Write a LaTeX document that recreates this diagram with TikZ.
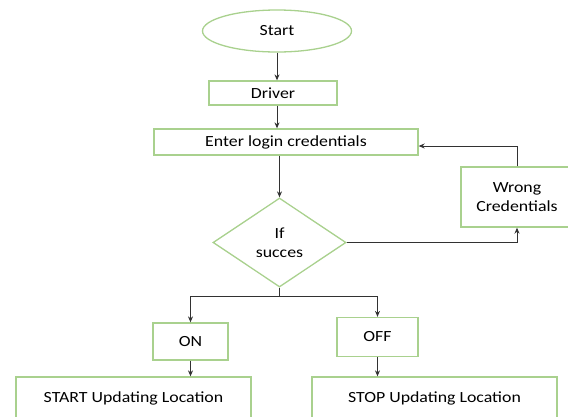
\documentclass[tikz,border=0pt]{standalone}
\usepackage{fontspec}
\setmainfont[FakeStretch=1.15]{Carlito}
\usetikzlibrary{shapes.geometric,arrows.meta,calc}

\definecolor{boxgreen}{RGB}{169,209,142}
\definecolor{linegray}{RGB}{50,50,50}

\begin{document}
\begin{tikzpicture}[x=1pt, y=-1pt, font=\fontsize{15.5}{19}\selectfont]
  \tikzstyle{box}=[rectangle, draw=boxgreen, line width=1.3pt, inner sep=0pt, align=center, fill=white]
  \tikzstyle{arr}=[draw=linegray, line width=1pt, -{Stealth[length=6pt,width=5pt]}]
  \tikzstyle{line}=[draw=linegray, line width=1pt]

  \useasboundingbox (0,0) rectangle (568,416);
  \clip (0,0) rectangle (568,416);

  \node[box, ellipse, minimum width=149pt, minimum height=42pt] (start) at (277, 31) {Start};
  \node[box, minimum width=128pt, minimum height=24pt] (driver) at (273, 93) {Driver};
  \node[box, minimum width=264pt, minimum height=26pt] (login) at (286, 142) {Enter login credentials};
  \node[box, diamond, minimum width=133pt, minimum height=89pt] (ifs) at (279.5, 242.5) {If\\succes};
  \node[box, minimum width=112pt, minimum height=60pt] (wrong) at (517, 197) {Wrong\\Credentials};
  \node[box, minimum width=75pt, minimum height=37pt] (on) at (190.5, 341.5) {ON};
  \node[box, minimum width=81pt, minimum height=39pt] (off) at (377.5, 337) {OFF};
  \node[box, minimum width=235pt, minimum height=42pt] (startloc) at (133.5, 398) {START Updating Location};
  \node[box, minimum width=245pt, minimum height=42pt] (stoploc) at (434.5, 398) {STOP Updating Location};

  \coordinate (fork) at ($(ifs.south)+(0,9)$);

  \draw[arr] (start.south) -- (start.south |- driver.north);
  \draw[arr] (driver.south -| start.south) -- (login.north -| start.south);
  \draw[arr] (login.south -| ifs.north) -- (ifs.north);
  \draw[arr] (ifs.east) -| (wrong.south);
  \draw[arr] (wrong.north) |- ([yshift=-4pt]login.east);
  \draw[line] (ifs.south) -- (fork);
  \draw[arr] (fork) -| (on.north);
  \draw[arr] (fork) -| (off.north);
  \draw[arr] (on.south) -- (on.south |- startloc.north);
  \draw[arr] (off.south) -- (off.south |- stoploc.north);

\end{tikzpicture}
\end{document}
